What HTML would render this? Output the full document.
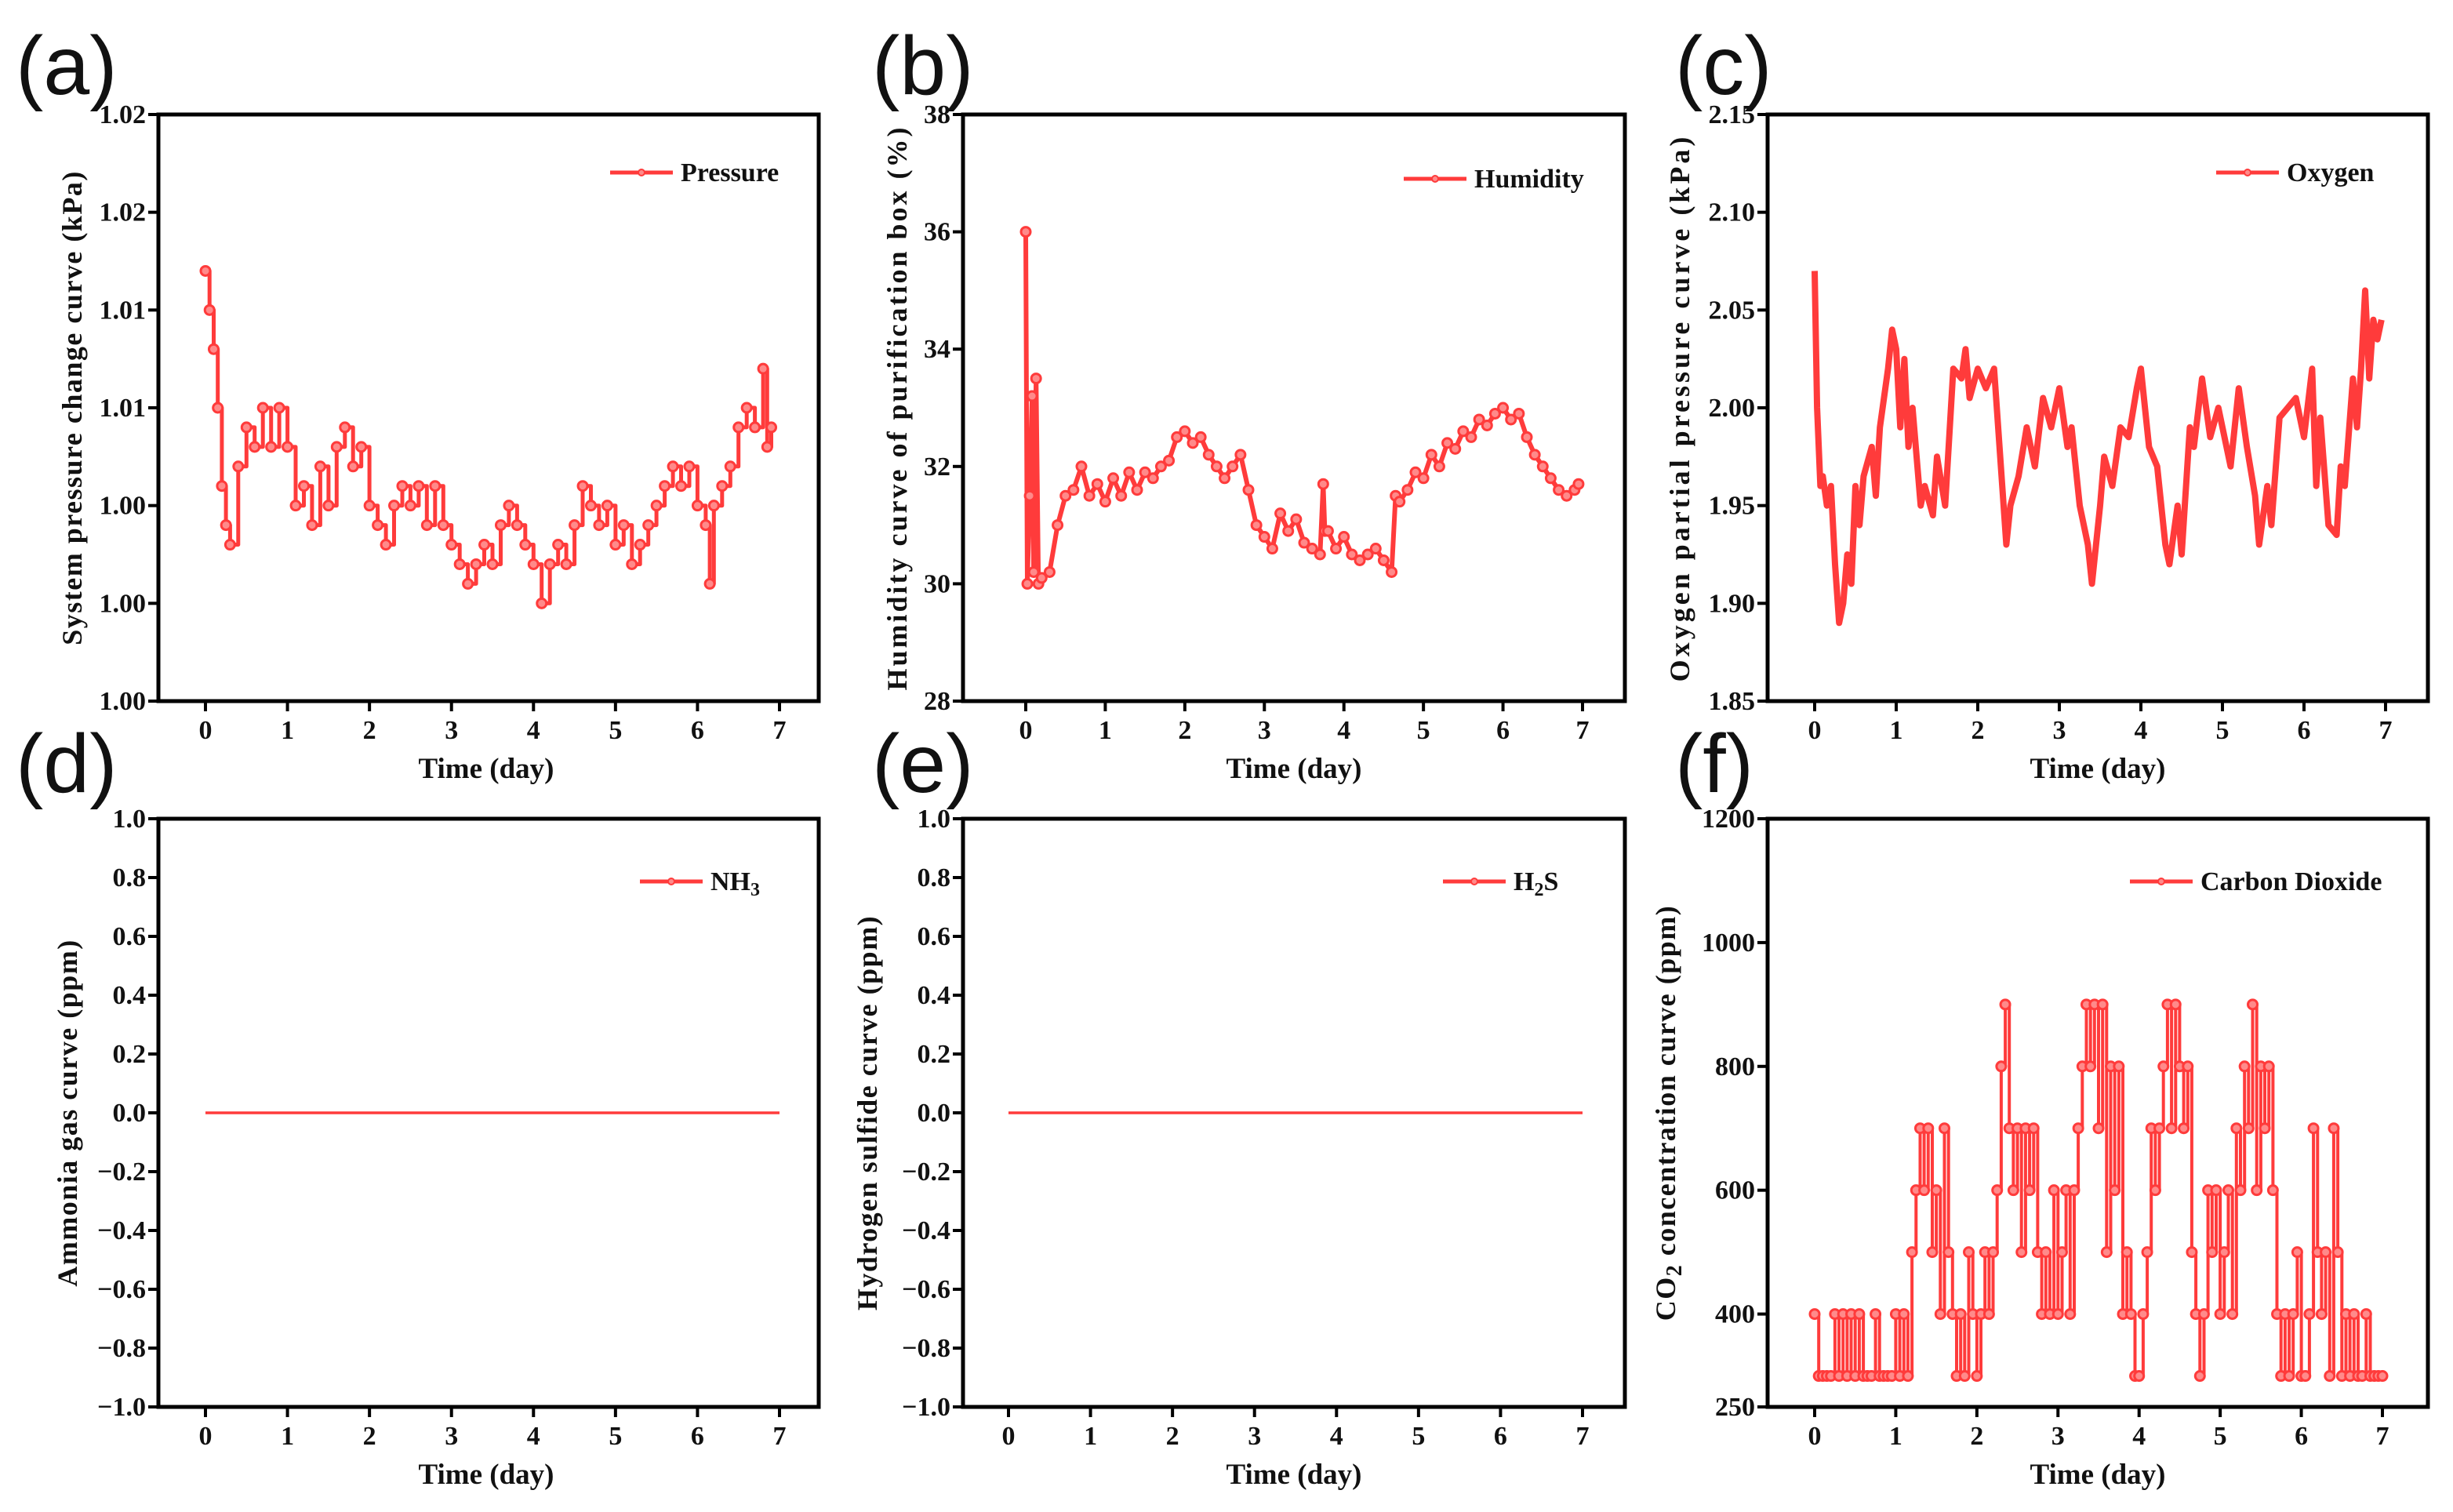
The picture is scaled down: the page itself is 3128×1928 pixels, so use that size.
<!DOCTYPE html>
<html><head><meta charset="utf-8">
<style>
html,body{margin:0;padding:0;background:#fff;}
svg{display:block;}
text{font-family:"Liberation Serif",serif;font-weight:bold;fill:#111;}
.pl{font-family:"Liberation Sans",sans-serif;font-weight:normal;}
</style></head>
<body>
<svg id="fig" width="3128" height="1928" viewBox="0 0 3128 1928" xmlns="http://www.w3.org/2000/svg"></svg>
<script>
// ---------- data ----------
const pressureTimes = [0,0.05,0.1,0.15,0.2,0.25,0.3,0.4,0.5,0.6,0.7,0.8,0.9,1.0,1.1,1.2,1.3,1.4,1.5,1.6,1.7,1.8,1.9,2.0,2.1,2.2,2.3,2.4,2.5,2.6,2.7,2.8,2.9,3.0,3.1,3.2,3.3,3.4,3.5,3.6,3.7,3.8,3.9,4.0,4.1,4.2,4.3,4.4,4.5,4.6,4.7,4.8,4.9,5.0,5.1,5.2,5.3,5.4,5.5,5.6,5.7,5.8,5.9,6.0,6.1,6.15,6.2,6.3,6.4,6.5,6.6,6.7,6.8,6.85,6.9];
const pressureValues = [1.0136,1.012,1.0104,1.008,1.0048,1.0032,1.0024,1.0056,1.0072,1.0064,1.008,1.0064,1.008,1.0064,1.004,1.0048,1.0032,1.0056,1.004,1.0064,1.0072,1.0056,1.0064,1.004,1.0032,1.0024,1.004,1.0048,1.004,1.0048,1.0032,1.0048,1.0032,1.0024,1.0016,1.0008,1.0016,1.0024,1.0016,1.0032,1.004,1.0032,1.0024,1.0016,1.0000,1.0016,1.0024,1.0016,1.0032,1.0048,1.004,1.0032,1.004,1.0024,1.0032,1.0016,1.0024,1.0032,1.004,1.0048,1.0056,1.0048,1.0056,1.004,1.0032,1.0008,1.004,1.0048,1.0056,1.0072,1.008,1.0072,1.0096,1.0064,1.0072];
const pressureTicks = ["1.00","1.00","1.00","1.01","1.01","1.02","1.02"];

const humidityTimes = [0,0.02,0.05,0.08,0.1,0.13,0.16,0.2,0.3,0.4,0.5,0.6,0.7,0.8,0.9,1.0,1.1,1.2,1.3,1.4,1.5,1.6,1.7,1.8,1.9,2.0,2.1,2.2,2.3,2.4,2.5,2.6,2.7,2.8,2.9,3.0,3.1,3.2,3.3,3.4,3.5,3.6,3.7,3.74,3.76,3.8,3.9,4.0,4.1,4.2,4.3,4.4,4.5,4.6,4.65,4.7,4.8,4.9,5.0,5.1,5.2,5.3,5.4,5.5,5.6,5.7,5.8,5.9,6.0,6.1,6.2,6.3,6.4,6.5,6.6,6.7,6.8,6.9,6.95];
const humidityValues = [36,30,31.5,33.2,30.2,33.5,30,30.1,30.2,31,31.5,31.6,32,31.5,31.7,31.4,31.8,31.5,31.9,31.6,31.9,31.8,32,32.1,32.5,32.6,32.4,32.5,32.2,32.0,31.8,32.0,32.2,31.6,31.0,30.8,30.6,31.2,30.9,31.1,30.7,30.6,30.5,31.7,30.9,30.9,30.6,30.8,30.5,30.4,30.5,30.6,30.4,30.2,31.5,31.4,31.6,31.9,31.8,32.2,32.0,32.4,32.3,32.6,32.5,32.8,32.7,32.9,33.0,32.8,32.9,32.5,32.2,32.0,31.8,31.6,31.5,31.6,31.7];
const humidityTicks = ["28","30","32","34","36","38"];

const oxygenTimes = [0,0.03,0.07,0.1,0.15,0.2,0.25,0.3,0.35,0.4,0.45,0.5,0.55,0.6,0.7,0.75,0.8,0.9,0.95,1.0,1.05,1.1,1.15,1.2,1.3,1.35,1.45,1.5,1.6,1.7,1.8,1.85,1.9,2.0,2.1,2.2,2.3,2.35,2.4,2.5,2.6,2.7,2.8,2.9,3.0,3.1,3.15,3.25,3.35,3.4,3.5,3.55,3.65,3.75,3.85,3.95,4.0,4.1,4.2,4.3,4.35,4.45,4.5,4.6,4.65,4.75,4.85,4.95,5.0,5.1,5.2,5.3,5.4,5.45,5.55,5.6,5.7,5.8,5.9,6.0,6.1,6.15,6.2,6.3,6.4,6.45,6.5,6.6,6.65,6.7,6.75,6.8,6.85,6.9,6.95];
const oxygenValues = [2.07,2.0,1.96,1.965,1.95,1.96,1.92,1.89,1.9,1.925,1.91,1.96,1.94,1.965,1.98,1.955,1.99,2.02,2.04,2.03,1.99,2.025,1.98,2.0,1.95,1.96,1.945,1.975,1.95,2.02,2.015,2.03,2.005,2.02,2.01,2.02,1.96,1.93,1.95,1.965,1.99,1.97,2.005,1.99,2.01,1.98,1.99,1.95,1.93,1.91,1.95,1.975,1.96,1.99,1.985,2.01,2.02,1.98,1.97,1.93,1.92,1.95,1.925,1.99,1.98,2.015,1.985,2.0,1.99,1.97,2.01,1.98,1.955,1.93,1.96,1.94,1.995,2.0,2.005,1.985,2.02,1.96,1.995,1.94,1.935,1.97,1.96,2.015,1.99,2.02,2.06,2.015,2.045,2.035,2.045];
const oxygenTicks = ["1.85","1.90","1.95","2.00","2.05","2.10","2.15"];

const gasTimes = [0,7];
const nh3Values = [0,0];
const h2sValues = [0,0];
const gasTicks = ["\u22121.0","\u22120.8","\u22120.6","\u22120.4","\u22120.2","0.0","0.2","0.4","0.6","0.8","1.0"];

const co2Values = [400,300,300,300,300,400,300,400,300,400,300,400,300,300,300,400,300,300,300,300,400,300,400,300,
500,600,700,600,700,500,600,400,700,500,400,300,400,300,500,400,300,400,500,400,
500,600,800,900,700,600,700,500,700,600,700,500,400,500,400,600,400,500,600,400,
600,700,800,900,800,900,700,900,500,800,600,800,400,500,400,300,300,400,500,700,
600,700,800,900,700,900,800,700,800,500,400,300,400,600,500,600,400,500,600,400,
700,600,800,700,900,600,800,700,800,600,400,300,400,300,400,500,300,300,400,700,
500,400,500,300,700,500,300,400,300,400,300,300,400,300,300,300,300];
const co2Step = 0.05;
const co2Ticks = ["250","400","600","800","1000","1200"];
const co2TickValues = [250,400,600,800,1000,1200];
const dayTicks = [0,1,2,3,4,5,6,7];

// ---------- drawing ----------
const NS = "http://www.w3.org/2000/svg";
const svg = document.getElementById('fig');
const RED = "#ff3b3b";
function mk(tag, attrs, parent){
  const e = document.createElementNS(NS, tag);
  for (const k in attrs) e.setAttribute(k, attrs[k]);
  (parent||svg).appendChild(e);
  return e;
}
function txt(s, x, y, size, anchor, parent, cls){
  const t = mk('text', {x:x, y:y, 'font-size':size, 'text-anchor':anchor||'middle'}, parent);
  if (cls) t.setAttribute('class', cls);
  t.textContent = s;
  return t;
}

function panel(cfg){
  const g = mk('g', {});
  
  
  const {L,R,T,B,x0,x7,ymin,ymax} = cfg;
  const sx = d => x0 + (x7 - x0) * d / 7;
  const sy = v => B - (v - ymin) / (ymax - ymin) * (B - T);
  const pl = txt(cfg.letter, cfg.letterX, cfg.letterY, 106, 'start', g, 'pl');
  
  
  const box = mk('rect', {x:L, y:T, width:R-L, height:B-T, fill:'none', stroke:'#000', 'stroke-width':5}, g);
  
  
  const xa = mk('g', {}, g);
  
  
  dayTicks.forEach(d => {
    mk('line', {x1:sx(d), x2:sx(d), y1:B, y2:B+13, stroke:'#000', 'stroke-width':4}, xa);
    const t = txt(String(d), sx(d), B+48, 34, 'middle', xa);
    
    
  });
  const xt = txt('Time (day)', (L+R)/2 + cfg.xTitleDx, B+98, 37, 'middle', g);
  
  
  const ya = mk('g', {}, g);
  
  
  cfg.ticks.forEach((lab, i) => {
    const v = cfg.tickValues[i];
    const y = sy(v);
    mk('line', {x1:L-13, x2:L, y1:y, y2:y, stroke:'#000', 'stroke-width':4}, ya);
    const t = txt(lab, L-16, y+11, 34, 'end', ya);
    
    
  });
  const ytg = mk('g', {transform:`translate(${cfg.yTitleX},${(T+B)/2}) rotate(-90)`}, g);
  const yt = txt('', 0, 0, 36, 'middle', ytg);
  
  
  yt.setAttribute('letter-spacing', cfg.ySpacing || 0);
  if (cfg.co2) {
    yt.appendChild(document.createTextNode('CO'));
    const s = mk('tspan', {'font-size':28, dy:8}, yt); s.textContent = '2';
    const r = mk('tspan', {dy:-8}, yt); r.textContent = ' concentration curve (ppm)';
  } else yt.textContent = cfg.yTitle;
  const pts = cfg.times.map((t,i)=>[sx(t), sy(cfg.values[i])]);
  let d = '';
  pts.forEach((p,i)=>{
    if (i===0) d += `M${p[0].toFixed(1)},${p[1].toFixed(1)}`;
    else if (cfg.step) d += `H${p[0].toFixed(1)}V${p[1].toFixed(1)}`;
    else d += `L${p[0].toFixed(1)},${p[1].toFixed(1)}`;
  });
  const line = mk('path', {d:d, fill:'none', stroke:RED, 'stroke-width':cfg.sw||3.5, 'stroke-linejoin':'round'}, g);
  
  
  if (cfg.markers) {
    const mg = mk('g', {}, g);
    
    
    pts.forEach(p=>{
      const c = mk('circle', {cx:p[0], cy:p[1], r:6, fill:'#ff8a8a', stroke:RED, 'stroke-width':3}, mg);
      
      
    });
  }
  const lg = mk('g', {}, g);
  
  
  const [lx, ly] = cfg.legend;
  mk('line', {x1:lx, x2:lx+80, y1:ly, y2:ly, stroke:RED, 'stroke-width':5}, lg);
  mk('circle', {cx:lx+40, cy:ly, r:4, fill:'#ff8a8a', stroke:RED, 'stroke-width':2}, lg);
  const lt = txt('', lx+90, ly+11, 34, 'start', lg);
  if (cfg.sub) {
    lt.appendChild(document.createTextNode(cfg.sub[0]));
    const s = mk('tspan', {'font-size':24, dy:7}, lt); s.textContent = cfg.sub[1];
    if (cfg.sub[2]) { const r = mk('tspan', {dy:-7}, lt); r.textContent = cfg.sub[2]; }
  } else lt.textContent = cfg.legendText;
}

const lin = (a,b,n)=>{const r=[];for(let i=0;i<n;i++)r.push(a+(b-a)*i/(n-1));return r;};

panel({name:'panel-a-pressure', letter:'(a)', letterX:20, letterY:120, L:202,R:1044,T:146,B:894, x0:262,x7:994, ymin:0.996,ymax:1.020,
  ticks:pressureTicks, tickValues:lin(0.996,1.020,7), yTitle:'System pressure change curve (kPa)', yTitleX:104, ySpacing:1.5,
  times:pressureTimes, values:pressureValues, step:true, markers:true, sw:5, legend:[778,220], legendText:'Pressure', xTitleDx:-3});
panel({name:'panel-b-humidity', letter:'(b)', letterX:1112, letterY:120, L:1228,R:2072,T:146,B:894, x0:1308,x7:2018, ymin:28,ymax:38,
  ticks:humidityTicks, tickValues:[28,30,32,34,36,38], yTitle:'Humidity curve of purification box (%)', yTitleX:1156, ySpacing:3,
  times:humidityTimes, values:humidityValues, markers:true, sw:6, legend:[1790,228], legendText:'Humidity', xTitleDx:0});
panel({name:'panel-c-oxygen', letter:'(c)', letterX:2136, letterY:120, L:2254,R:3096,T:146,B:894, x0:2314,x7:3042, ymin:1.85,ymax:2.15,
  ticks:oxygenTicks, tickValues:lin(1.85,2.15,7), yTitle:'Oxygen partial pressure curve (kPa)', yTitleX:2154, ySpacing:4,
  times:oxygenTimes, values:oxygenValues, markers:false, sw:8, legend:[2826,220], legendText:'Oxygen', xTitleDx:0});
panel({name:'panel-d-ammonia', letter:'(d)', letterX:20, letterY:1010, L:202,R:1044,T:1044,B:1794, x0:262,x7:994, ymin:-1,ymax:1,
  ticks:gasTicks, tickValues:lin(-1,1,11), yTitle:'Ammonia gas curve  (ppm)', yTitleX:98, ySpacing:1.5,
  times:gasTimes, values:nh3Values, markers:false, sw:3.5, legend:[816,1124], sub:['NH','3'], xTitleDx:-3});
panel({name:'panel-e-h2s', letter:'(e)', letterX:1112, letterY:1010, L:1228,R:2072,T:1044,B:1794, x0:1286,x7:2018, ymin:-1,ymax:1,
  ticks:gasTicks, tickValues:lin(-1,1,11), yTitle:'Hydrogen sulfide curve (ppm)', yTitleX:1118, ySpacing:1.5,
  times:gasTimes, values:h2sValues, markers:false, sw:3.5, legend:[1840,1124], sub:['H','2','S'], xTitleDx:0});
const co2Times = co2Values.map((v,i)=>i*co2Step);
panel({name:'panel-f-co2', letter:'(f)', letterX:2136, letterY:1010, L:2254,R:3096,T:1044,B:1794, x0:2314,x7:3038, ymin:250,ymax:1200,
  ticks:co2Ticks, tickValues:co2TickValues, co2:true, yTitleX:2136, ySpacing:1.5,
  times:co2Times, values:co2Values, step:true, markers:true, sw:4, legend:[2716,1124], legendText:'Carbon Dioxide', xTitleDx:0});
</script>
</body></html>
